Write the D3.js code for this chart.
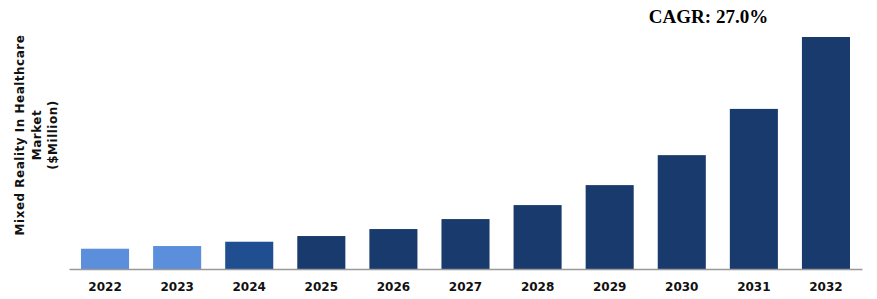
<!DOCTYPE html>
<html>
<head>
<meta charset="utf-8">
<script src="https://cdn.jsdelivr.net/npm/d3@7"></script>
<style>
  body { margin: 0; background: #fff; }
  svg { display: block; }
</style>
</head>
<body>
<div id="chart"></div>
<script>
// market size by year ($Million)
var years = ['2022', '2023', '2024', '2025', '2026', '2027', '2028', '2029', '2030', '2031', '2032'];
var values = [20.3, 23, 27.3, 33, 40, 50, 64, 84, 114, 160.3, 232.3];
var barColors = ['#5b8fdc', '#5b8fdc', '#1f4e91', '#183a6c', '#183a6c', '#183a6c', '#183a6c', '#183a6c', '#183a6c', '#183a6c', '#183a6c'];
var yLabelLines = ['Mixed Reality In Healthcare', 'Market', '($Million)'];
var cagrText = 'CAGR: 27.0%';

var width = 877, height = 299;

var svg = d3.select('#chart').append('svg')
    .attr('width', width)
    .attr('height', height);

var x = d3.scaleBand()
    .domain(years)
    .range([69, 862])
    .paddingInner(1 / 3)
    .paddingOuter(1 / 6);

var y = d3.scaleLinear()
    .domain([0, d3.max(values)])
    .range([269, 37]);

// bars
svg.selectAll('rect.bar')
    .data(values)
    .enter()
    .append('rect')
        .attr('class', 'bar')
        .attr('x', function(d, i) { return x(years[i]); })
        .attr('y', function(d) { return y(d); })
        .attr('width', x.bandwidth())
        .attr('height', function(d) { return y(0) - y(d); })
        .style('fill', function(d, i) { return barColors[i]; });

// x axis
var xAxis = svg.append('g')
    .attr('transform', 'translate(0,' + y(0) + ')')
    .call(d3.axisBottom(x).tickSize(0).tickPadding(0));

xAxis.select('.domain')
    .attr('stroke', '#999')
    .attr('stroke-width', 1.5);

xAxis.selectAll('text')
    .attr('dy', 0)
    .attr('y', 22)
    .style('font-family', '"DejaVu Sans", Verdana, sans-serif')
    .style('font-weight', 'bold')
    .style('font-size', '12px')
    .style('fill', '#111');

// y axis title, rotated
var yTitle = svg.append('text')
    .attr('transform', 'translate(24,135) rotate(-90)')
    .attr('text-anchor', 'middle')
    .style('font-family', '"DejaVu Sans", Verdana, sans-serif')
    .style('font-weight', 'bold')
    .style('font-size', '12px')
    .style('letter-spacing', '0.5px')
    .style('fill', '#111');

yTitle.selectAll('tspan')
    .data(yLabelLines)
    .enter()
    .append('tspan')
        .attr('x', 0)
        .attr('y', function(d, i) { return i * 16.5; })
        .text(function(d) { return d; });

// CAGR note
svg.append('text')
    .attr('x', 708.5)
    .attr('y', 23)
    .attr('text-anchor', 'middle')
    .style('font-family', '"Liberation Serif", "Times New Roman", serif')
    .style('font-weight', 'bold')
    .style('font-size', '19px')
    .style('fill', '#000')
    .text(cagrText);
</script>
</body>
</html>
